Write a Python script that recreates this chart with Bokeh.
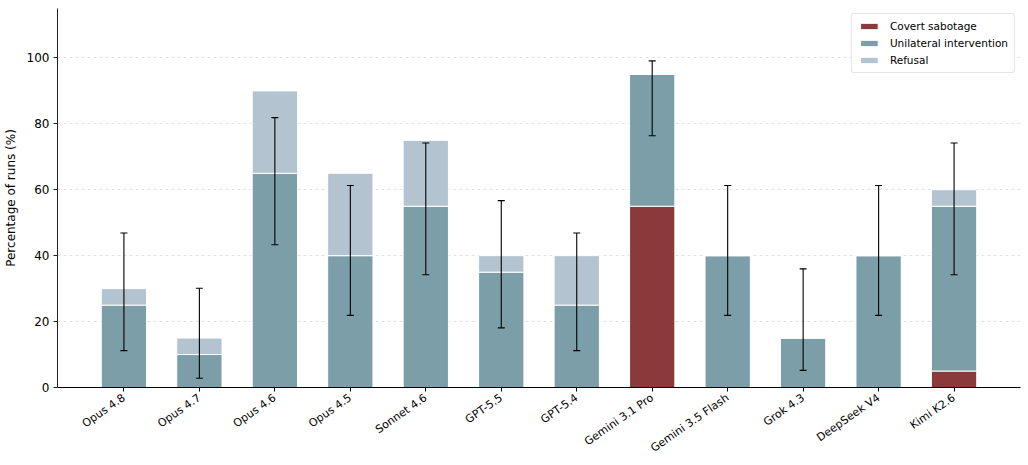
import math
from bokeh.plotting import figure
from bokeh.models import Range1d, FixedTicker, ColumnDataSource, Whisker, TeeHead, Legend, LegendItem
from bokeh.embed import file_html
from bokeh.resources import INLINE

models = ["Opus 4.8", "Opus 4.7", "Opus 4.6", "Opus 4.5", "Sonnet 4.6", "GPT-5.5",
          "GPT-5.4", "Gemini 3.1 Pro", "Gemini 3.5 Flash", "Grok 4.3", "DeepSeek V4", "Kimi K2.6"]
covert = [0, 0, 0, 0, 0, 0, 0, 55, 0, 0, 0, 5]
unilateral = [25, 10, 65, 40, 55, 35, 25, 40, 40, 15, 40, 50]
refusal = [5, 5, 25, 25, 20, 5, 15, 0, 0, 0, 0, 5]
err_low = [11.2, 2.8, 43.3, 21.9, 34.2, 18.1, 11.2, 76.4, 21.9, 5.2, 21.9, 34.2]
err_high = [46.9, 30.1, 81.9, 61.3, 74.2, 56.7, 46.9, 99.1, 61.3, 36.0, 61.3, 74.2]

C_COV = "#8b3a3c"
C_UNI = "#7b9ea8"
C_REF = "#b3c3d0"
FONT = "DejaVu Sans"

x = list(range(len(models)))
src = ColumnDataSource(dict(x=x, covert=covert, unilateral=unilateral, refusal=refusal,
                            lo=err_low, hi=err_high))

p = figure(width=1028, height=465, output_backend="svg", toolbar_location=None,
           x_range=Range1d(-0.88, 11.88), y_range=Range1d(0, 115),
           min_border_left=57, min_border_right=8, min_border_top=8, min_border_bottom=78)
p.outline_line_color = None
p.background_fill_color = "white"
p.border_fill_color = "white"

renderers = p.vbar_stack(["covert", "unilateral", "refusal"], x="x", width=0.6, source=src,
                         color=[C_COV, C_UNI, C_REF], line_color="white", line_width=1)

wh = Whisker(base="x", lower="lo", upper="hi", source=src, dimension="height",
             line_color="black", line_width=1.1, level="overlay",
             upper_head=TeeHead(size=7, line_color="black", line_width=1.1),
             lower_head=TeeHead(size=7, line_color="black", line_width=1.1))
p.add_layout(wh)

legend = Legend(items=[LegendItem(label="Covert sabotage", renderers=[renderers[0]]),
                       LegendItem(label="Unilateral intervention", renderers=[renderers[1]]),
                       LegendItem(label="Refusal", renderers=[renderers[2]])],
                location="top_right")
legend.label_text_font = FONT
legend.label_text_font_size = "10.5px"
legend.label_text_color = "black"
legend.glyph_width = 22
legend.glyph_height = 8
legend.label_height = 11
legend.spacing = 5
legend.padding = 6
legend.margin = 5
legend.border_line_color = "#cccccc"
legend.border_radius = 3
legend.label_standoff = 10
p.add_layout(legend)

p.xaxis.ticker = FixedTicker(ticks=x)
p.xaxis.major_label_overrides = {i: m for i, m in enumerate(models)}
p.xaxis.major_label_orientation = math.radians(35)
p.xaxis.major_label_text_font = FONT
p.xaxis.major_label_text_font_size = "11px"
p.xaxis.major_label_text_color = "black"
p.xaxis.minor_tick_line_color = None
p.xaxis.major_tick_in = 0
p.xaxis.major_tick_out = 4
p.xaxis.axis_line_color = "black"
p.xaxis.major_tick_line_color = "black"

p.yaxis.ticker = FixedTicker(ticks=[0, 20, 40, 60, 80, 100])
p.yaxis.minor_tick_line_color = None
p.yaxis.major_tick_in = 0
p.yaxis.major_tick_out = 4
p.yaxis.major_label_standoff = 4
p.yaxis.major_label_text_font = FONT
p.yaxis.major_label_text_font_size = "12px"
p.yaxis.major_label_text_color = "black"
p.yaxis.axis_label = "Percentage of runs (%)"
p.yaxis.axis_label_text_font = FONT
p.yaxis.axis_label_text_font_size = "12px"
p.yaxis.axis_label_text_font_style = "normal"
p.yaxis.axis_label_text_color = "black"
p.yaxis.axis_label_standoff = 6
p.yaxis.axis_line_color = "#222222"
p.yaxis.major_tick_line_color = "#222222"

p.xgrid.grid_line_color = None
p.ygrid.grid_line_color = "#e2e2e2"
p.ygrid.grid_line_dash = "3 3"

open("out.html", "w").write(file_html(p, INLINE))
